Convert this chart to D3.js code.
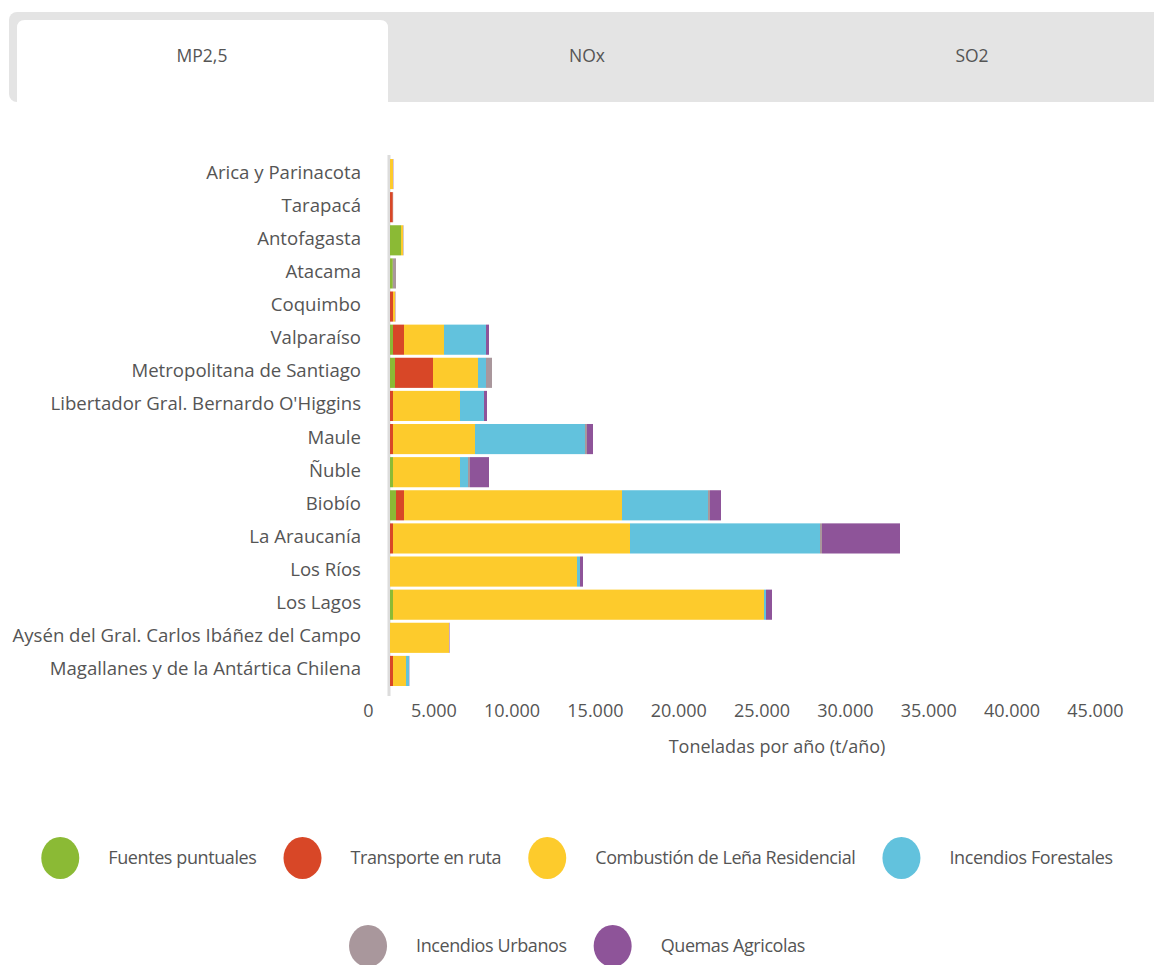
<!DOCTYPE html>
<html>
<head>
<meta charset="utf-8">
<script src="https://cdn.jsdelivr.net/npm/d3@7"></script>
<style>
  body { margin: 0; background: #fff; }
  svg { display: block; font-family: "Open Sans", sans-serif; }
</style>
</head>
<body>
<div id="chart"></div>
<script>
// regions, top to bottom
const regions = [
  "Arica y Parinacota", "Tarapacá", "Antofagasta", "Atacama", "Coquimbo",
  "Valparaíso", "Metropolitana de Santiago", "Libertador Gral. Bernardo O'Higgins",
  "Maule", "Ñuble", "Biobío", "La Araucanía", "Los Ríos", "Los Lagos",
  "Aysén del Gral. Carlos Ibáñez del Campo", "Magallanes y de la Antártica Chilena"
];

const tabs = ["MP2,5", "NOx", "SO2"];

const sources = [
  "Fuentes puntuales", "Transporte en ruta", "Combustión de Leña Residencial",
  "Incendios Forestales", "Incendios Urbanos", "Quemas Agricolas"
];
const colors = ["#8bba35", "#d84727", "#fdcb2c", "#62c2dd", "#a9979c", "#8e5499"];

// t/año per source, same order as regions
const fuentes     = [0, 0, 660, 170, 0, 180, 300, 0, 0, 180, 360, 0, 0, 180, 0, 0];
const transporte  = [0, 170, 0, 0, 180, 660, 2280, 180, 180, 0, 480, 180, 0, 0, 0, 180];
const lena        = [180, 0, 120, 0, 130, 2400, 2700, 4020, 4920, 4020, 13080, 14220, 11220, 22260, 3540, 780];
const forestales  = [0, 0, 0, 0, 0, 2520, 480, 1440, 6600, 480, 5160, 11400, 180, 120, 0, 180];
const urbanos     = [0, 20, 30, 190, 0, 0, 360, 0, 120, 120, 120, 120, 0, 0, 0, 0];
const quemas      = [20, 0, 0, 0, 20, 180, 0, 180, 360, 1140, 660, 4680, 180, 360, 30, 20];

const tickValues = [0, 5000, 10000, 15000, 20000, 25000, 30000, 35000, 40000, 45000];
const axisTitle = "Toneladas por año (t/año)";

const seriesValues = [fuentes, transporte, lena, forestales, urbanos, quemas];
const rows = regions.map(function(r, i) {
  let row = { region: r };
  sources.forEach(function(s, j) { row[s] = seriesValues[j][i]; });
  return row;
});

const width = 1154, height = 965;
const textColor = "#555";

let svg = d3.select("#chart").append("svg")
  .attr("width", width)
  .attr("height", height);

// tabs
svg.append("rect")
  .attr("x", 9).attr("y", 12)
  .attr("width", 1160).attr("height", 90)
  .attr("rx", 8)
  .attr("fill", "#e4e4e4");

svg.append("path")
  .attr("d", "M17,102 V28 Q17,20 25,20 H380 Q388,20 388,28 V102 Z")
  .attr("fill", "#fff");

svg.selectAll(".tab")
  .data(tabs)
  .join("text")
  .attr("class", "tab")
  .attr("x", function(d, i) { return 202 + i * 385; })
  .attr("y", 62)
  .attr("text-anchor", "middle")
  .attr("font-size", 17.5)
  .attr("fill", textColor)
  .text(function(d) { return d; });

// scales
let x = d3.scaleLinear()
  .domain([0, 45000])
  .range([390, 1140]);

let y = d3.scaleBand()
  .domain(regions)
  .range([157.5, 687.5])
  .paddingInner(0.09)
  .paddingOuter(0.045);

// baseline
svg.append("line")
  .attr("x1", x(0) - 1).attr("x2", x(0) - 1)
  .attr("y1", 155).attr("y2", 696)
  .style("stroke", "#dcdcdc")
  .style("stroke-width", 3);

// bars
let stacked = d3.stack().keys(sources)(rows);

svg.append("g")
  .selectAll("g")
  .data(stacked)
  .join("g")
    .attr("fill", function(d, i) { return colors[i]; })
  .selectAll("rect")
  .data(function(d) { return d; })
  .join("rect")
    .attr("x", function(d) { return x(d[0]); })
    .attr("y", function(d) { return y(d.data.region); })
    .attr("width", function(d) { return x(d[1]) - x(d[0]); })
    .attr("height", y.bandwidth());

// region labels
svg.append("g")
  .selectAll("text")
  .data(regions)
  .join("text")
  .attr("x", 361)
  .attr("y", function(d) { return y(d) + y.bandwidth() / 2 - 2; })
  .attr("dy", "0.35em")
  .attr("text-anchor", "end")
  .attr("font-size", 18.6)
  .attr("fill", textColor)
  .text(function(d) { return d; });

// x axis
let xAxis = svg.append("g")
  .attr("transform", "translate(0, 700)")
  .call(d3.axisBottom(x)
    .tickValues(tickValues)
    .tickSize(0)
    .tickFormat(function(d) { return d3.format(",")(d).replace(/,/g, "."); }));

xAxis.select(".domain").remove();
xAxis.selectAll("text")
  .attr("x", -17)
  .attr("y", 12)
  .attr("dy", "0em")
  .attr("dominant-baseline", "middle")
  .attr("text-anchor", "end")
  .attr("font-family", "Open Sans, sans-serif")
  .attr("font-size", 18)
  .attr("fill", textColor);

svg.append("text")
  .attr("x", (x.range()[0] + x.range()[1]) / 2 + 12)
  .attr("y", 753)
  .attr("text-anchor", "middle")
  .attr("font-size", 18)
  .attr("fill", textColor)
  .text(axisTitle);

// legend, two centred rows
const legendRows = [[0, 1, 2, 3], [4, 5]];
const legendY = [858, 946];

legendRows.forEach(function(idx, r) {
  let g = svg.append("g");
  let items = g.selectAll("g")
    .data(idx)
    .join("g");

  items.append("ellipse")
    .attr("rx", 19).attr("ry", 21)
    .attr("cx", 19)
    .attr("fill", function(d) { return colors[d]; });

  items.append("text")
    .attr("x", 67)
    .attr("dy", "0.35em")
    .attr("font-size", 18)
    .attr("letter-spacing", -0.4)
    .attr("fill", textColor)
    .text(function(d) { return sources[d]; });

  // lay items out left to right, then centre the row
  let pos = 0;
  items.each(function() {
    let w = 67 + d3.select(this).select("text").node().getComputedTextLength();
    d3.select(this).attr("transform", "translate(" + pos + "," + legendY[r] + ")");
    pos += w + 27;
  });
  let rowWidth = pos - 27;
  g.attr("transform", "translate(" + ((width - rowWidth) / 2) + ",0)");
});
</script>
</body>
</html>
